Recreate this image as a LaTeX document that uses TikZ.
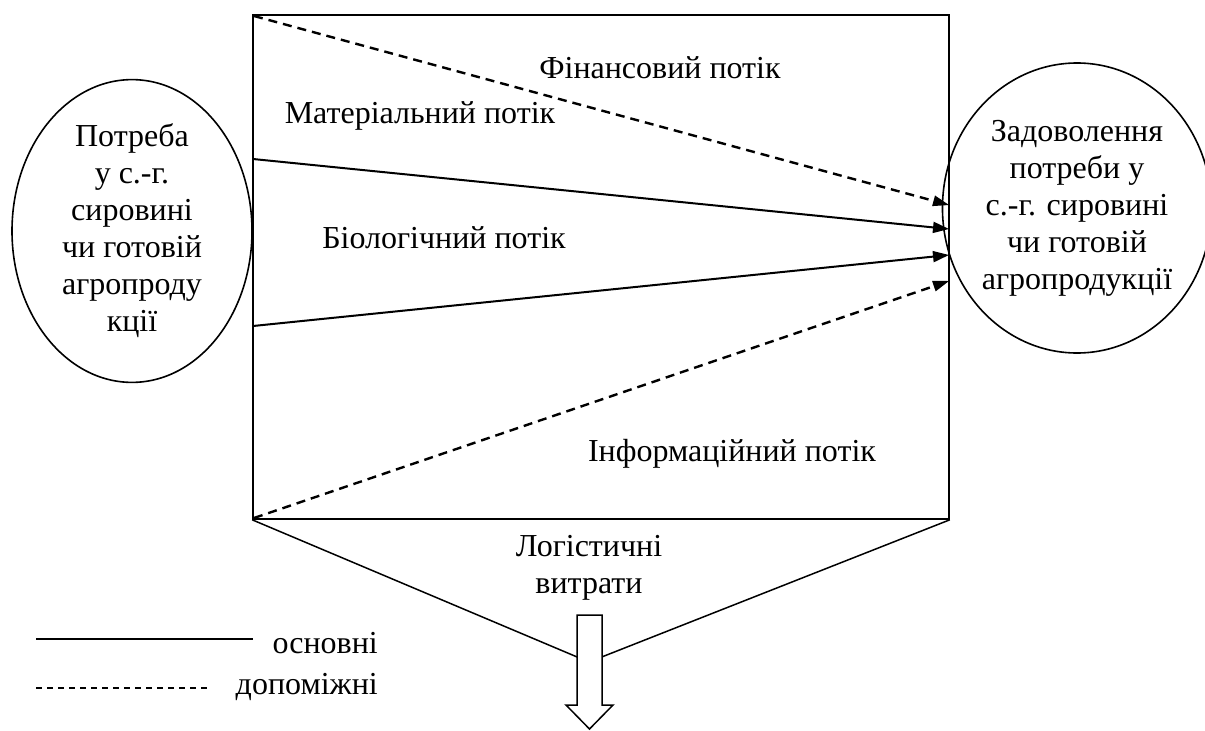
\documentclass[tikz,border=0pt]{standalone}
\usepackage{fontspec}
\setmainfont{Liberation Serif}
\usetikzlibrary{shapes.geometric,arrows.meta}
\tikzset{
  lbl/.style={font=\fontsize{32}{37}\selectfont, inner sep=0pt, align=center},
  oval/.style={draw, line width=1.6pt, ellipse, inner sep=0pt, font=\fontsize{32}{37}\selectfont, align=center},
  mainflow/.style={line width=2pt, -{Triangle[length=16pt,width=11pt]}},
  auxflow/.style={line width=2.4pt, dash pattern=on 9pt off 6pt, -{Triangle[length=16pt,width=11pt,line width=0pt]}},
  boxline/.style={line width=1.6pt},
}
\begin{document}
\begin{tikzpicture}[x=1pt,y=-1pt]
\useasboundingbox (0,0) rectangle (1205,731);
% main box
\node[draw, boxline, minimum width=696pt, minimum height=504pt, inner sep=0pt] (box) at (601,267) {};
% ellipses
\node[oval, minimum width=240pt, minimum height=288pt] (need) at (132,231)
  {Потреба\\у с.-г.\\сировині\\чи готовій\\агропроду\\кції};
\node[oval, minimum width=254pt, minimum height=290pt] (sat) at (1077,208)
  {Задоволення\\потреби у\\с.-г. сировині\\чи готовій\\агропродукції};
% flow endpoints
\coordinate (f1s) at (254,16);
\coordinate (f1e) at (949,205);
\coordinate (m1s) at (253,159);
\coordinate (m1e) at (949,229);
\coordinate (b1s) at (253,326);
\coordinate (b1e) at (949,255);
\coordinate (i1s) at (254,518);
\coordinate (i1e) at (949,281);
\draw[auxflow] (f1s) -- (f1e);
\draw[mainflow] (m1s) -- (m1e);
\draw[mainflow] (b1s) -- (b1e);
\draw[auxflow] (i1s) -- (i1e);
% labels
\node[lbl] (fin) at (660,68) {Фінансовий потік};
\node[lbl] (mat) at (420,116) {Матеріальний потік};
\node[lbl] (bio) at (444,238) {Біологічний потік};
\node[lbl] (inf) at (732,454) {Інформаційний потік};
% cost triangle
\coordinate (apex) at (589,662);
\draw[line width=1.5pt] (box.south west) -- (apex) -- (box.south east);
\node[lbl] (cost) at (589,568) {Логістичні\\витрати};
% block arrow
\draw[line width=1.5pt, fill=white] (577,615) -- (602,615) -- (602,705) -- (613,705)
  -- (589.5,729) -- (566,705) -- (577,705) -- cycle;
% legend
\coordinate (ls1) at (36,639);
\coordinate (le1) at (253,639);
\coordinate (ls2) at (36,688);
\coordinate (le2) at (207,688);
\draw[line width=1.8pt] (ls1) -- (le1);
\draw[line width=1.4pt, dash pattern=on 6pt off 5pt] (ls2) -- (le2);
\node[lbl, anchor=base east] (main) at (378,653) {основні};
\node[lbl, anchor=base east] (aux) at (378,694) {допоміжні};
\end{tikzpicture}
\end{document}
